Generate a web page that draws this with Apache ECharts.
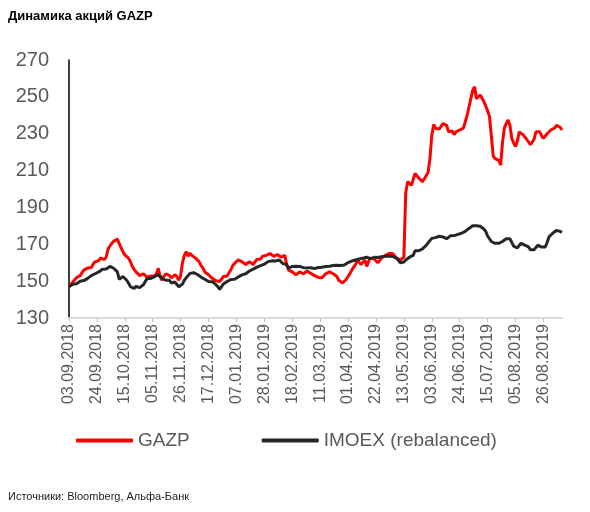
<!DOCTYPE html>
<html>
<head>
<meta charset="utf-8">
<script src="https://cdn.jsdelivr.net/npm/echarts@6/dist/echarts.min.js"></script>
<style>
html,body{margin:0;padding:0;background:#fff;}
#chart{width:590px;height:512px;}
</style>
</head>
<body>
<div id="chart"></div>
<script>
// ---- data ----
const tickLabels = ["03.09.2018","24.09.2018","15.10.2018","05.11.2018","26.11.2018","17.12.2018",
  "07.01.2019","28.01.2019","18.02.2019","11.03.2019","01.04.2019","22.04.2019","13.05.2019",
  "03.06.2019","24.06.2019","15.07.2019","05.08.2019","26.08.2019"];

const gazp = [
147.0,148.2,149.5,150.5,151.8,151.2,153.0,154.6,156.0,155.2,
157.1,158.0,157.4,159.3,160.5,159.8,161.2,162.6,162.5,161.7,
163.0,167.5,169.1,170.5,171.6,172.0,172.8,172.0,168.0,166.0,
164.2,165.0,162.5,160.5,158.0,156.4,155.0,154.1,153.0,152.5,
154.0,153.5,152.2,151.5,152.8,153.5,152.9,154.0,157.0,152.5,
150.5,152.6,154.0,153.4,153.0,151.8,152.5,153.5,152.4,150.5,
153.0,160.0,164.0,166.0,163.5,165.2,164.0,163.4,162.5,161.6,
160.5,158.4,157.0,155.0,155.8,153.5,152.6,151.5,151.0,150.2,
149.5,149.8,150.5,152.5,151.9,152.8,153.5,156.2,158.5,159.6,
160.5,161.5,161.0,160.5,159.7,159.0,159.6,160.5,159.8,159.0,
160.5,161.7,162.5,162.0,163.5,163.2,164.0,164.6,165.0,164.1,
163.5,164.0,164.4,163.5,163.0,162.5,164.0,159.0,156.0,155.6,
155.0,154.2,153.5,154.4,155.0,154.6,154.0,154.8,155.5,155.0,
154.2,153.5,153.0,152.5,152.0,151.5,151.9,152.5,154.0,154.6,
155.0,154.7,154.0,153.2,152.5,150.5,149.6,149.0,149.5,150.9,
152.5,154.1,156.0,157.6,159.0,161.5,160.2,159.0,160.3,161.5,
158.0,160.6,162.5,161.5,162.0,162.5,160.0,159.0,162.5,163.4,
164.0,164.6,165.0,166.0,165.0,163.8,162.5,161.9,161.5,162.5,
163.0,198.0,204.0,203.0,202.0,205.0,208.5,209.5,206.0,206.5,
204.0,205.5,204.5,209.0,216.5,229.0,235.0,233.0,232.0,232.5,
233.0,235.5,235.0,234.5,231.0,232.0,231.5,229.5,231.0,231.5,
232.0,232.5,233.0,234.0,240.0,244.5,249.0,253.5,255.5,249.0,
249.5,251.0,250.0,247.5,245.0,242.5,239.5,229.0,218.0,216.5,
216.5,215.5,213.0,225.0,233.0,235.5,237.5,234.5,227.5,225.0,
223.0,226.0,231.0,230.0,229.5,228.5,227.0,225.5,224.0,225.0,
227.0,231.0,231.0,231.0,229.0,227.5,226.5,230.0,229.5,232.0,
232.5,233.0,234.5,235.5,233.5,232.0
];

const imoex = [
147.0,147.6,148.3,149.0,148.6,149.2,149.9,149.5,150.3,151.0,
151.5,152.2,153.0,153.6,154.0,154.6,155.0,155.8,156.4,157.0,
156.6,157.5,158.0,157.6,157.0,156.2,155.0,151.0,152.0,152.5,
151.6,150.5,149.0,147.0,146.4,146.0,147.2,148.0,146.5,147.0,
148.0,149.8,151.5,151.0,151.5,152.1,152.5,152.9,153.5,152.6,
151.5,151.0,150.5,150.8,150.5,149.0,149.6,149.5,148.2,147.0,
146.5,148.4,150.5,151.8,153.0,154.2,155.0,154.6,154.0,153.6,
153.0,152.2,151.5,151.0,150.5,149.8,149.5,149.7,149.0,148.1,
147.0,145.5,147.0,148.5,149.2,149.8,150.5,150.9,151.3,151.0,
151.5,152.3,153.0,153.4,153.8,154.0,154.9,155.5,156.0,156.5,
157.1,157.6,158.0,158.4,158.9,159.2,159.5,160.6,161.5,161.0,
160.5,160.9,161.3,161.5,160.6,159.5,159.8,159.0,157.0,157.5,
158.0,157.6,158.1,157.8,158.0,157.7,157.3,157.5,157.2,156.9,
157.3,157.0,156.8,157.0,157.4,157.0,157.5,157.9,158.0,158.3,
158.1,158.6,158.5,158.9,158.6,159.0,158.5,158.0,158.8,159.5,
160.1,160.5,160.9,161.2,161.5,161.8,162.0,162.3,162.5,162.8,
163.0,162.6,162.2,162.5,162.9,163.2,162.8,163.0,163.3,163.1,
163.5,163.9,163.6,164.0,163.4,163.0,162.5,161.4,160.0,159.5,
160.4,161.5,162.2,163.0,163.4,164.0,166.5,166.0,166.5,167.2,
167.5,168.4,169.5,170.8,172.0,173.2,174.0,173.6,174.0,174.4,
173.8,174.0,173.5,173.0,173.9,174.6,175.0,174.7,175.0,175.4,
175.7,176.0,176.5,177.0,177.5,178.6,179.5,180.0,180.5,180.0,
179.5,179.8,179.5,178.3,177.0,174.5,173.0,171.5,171.0,170.5,
170.2,170.5,171.0,171.5,172.4,173.0,173.3,173.0,171.0,169.0,
168.2,168.0,169.4,170.5,170.0,169.5,170.5,168.6,167.0,166.8,
167.0,168.3,169.5,169.0,168.5,168.8,168.5,171.0,174.0,175.0,
176.0,176.8,177.5,177.2,177.0,176.5
];

// trading-day categories (weekdays) starting 03.09.2018
const categories = [];
(function(){
  const d = new Date(2018, 8, 3);
  while (categories.length < gazp.length) {
    const wd = d.getDay();
    if (wd !== 0 && wd !== 6) {
      const dd = String(d.getDate()).padStart(2,'0');
      const mm = String(d.getMonth()+1).padStart(2,'0');
      categories.push(dd + '.' + mm + '.' + d.getFullYear());
    }
    d.setDate(d.getDate()+1);
  }
})();

const FONT = '"Liberation Sans", Arial, sans-serif';
const showTick = function(idx, val){ return tickLabels.indexOf(val) >= 0; };

const chart = echarts.init(document.getElementById('chart'), null, {renderer:'canvas'});
chart.setOption({
  backgroundColor: '#ffffff',
  animation: false,
  textStyle: {fontFamily: FONT},
  title: [
    {text: 'Динамика акций GAZP', left: 3, top: 5,
     textStyle: {fontFamily: FONT, fontSize: 13, fontWeight: 'bold', color: '#000'}},
    {text: 'Источники: Bloomberg, Альфа-Банк', left: 3, top: 486,
     textStyle: {fontFamily: FONT, fontSize: 11, fontWeight: 'normal', color: '#222'}}
  ],
  legend: {
    left: 71, top: 426,
    itemWidth: 57, itemHeight: 4, itemGap: 72,
    icon: 'roundRect',
    textStyle: {fontFamily: FONT, fontSize: 19, color: '#595959'},
    data: ['GAZP', 'IMOEX (rebalanced)']
  },
  grid: {left: 69, right: 28, top: 60, bottom: 194, containLabel: false},
  xAxis: {
    type: 'category',
    data: categories,
    boundaryGap: false,
    axisLine: {show: true, lineStyle: {color: '#d9d9d9', width: 2}},
    axisTick: {show: true, interval: showTick, length: 4, lineStyle: {color: '#bfbfbf', width: 1}},
    axisLabel: {interval: showTick, rotate: 90, fontSize: 16, color: '#595959', margin: 6, fontFamily: FONT},
    splitLine: {show: false}
  },
  yAxis: {
    type: 'value',
    min: 130, max: 270, interval: 20,
    axisLine: {show: true, lineStyle: {color: '#000', width: 1.5}},
    axisTick: {show: false},
    axisLabel: {fontSize: 20, color: '#595959', margin: 20, fontFamily: FONT},
    splitLine: {show: false}
  },
  series: [
    {name: 'GAZP', type: 'line', data: gazp, symbol: 'none',
     lineStyle: {color: '#ff0000', width: 3}, itemStyle: {color: '#ff0000'}},
    {name: 'IMOEX (rebalanced)', type: 'line', data: imoex, symbol: 'none',
     lineStyle: {color: '#262626', width: 3}, itemStyle: {color: '#262626'}}
  ]
});
</script>
</body>
</html>
